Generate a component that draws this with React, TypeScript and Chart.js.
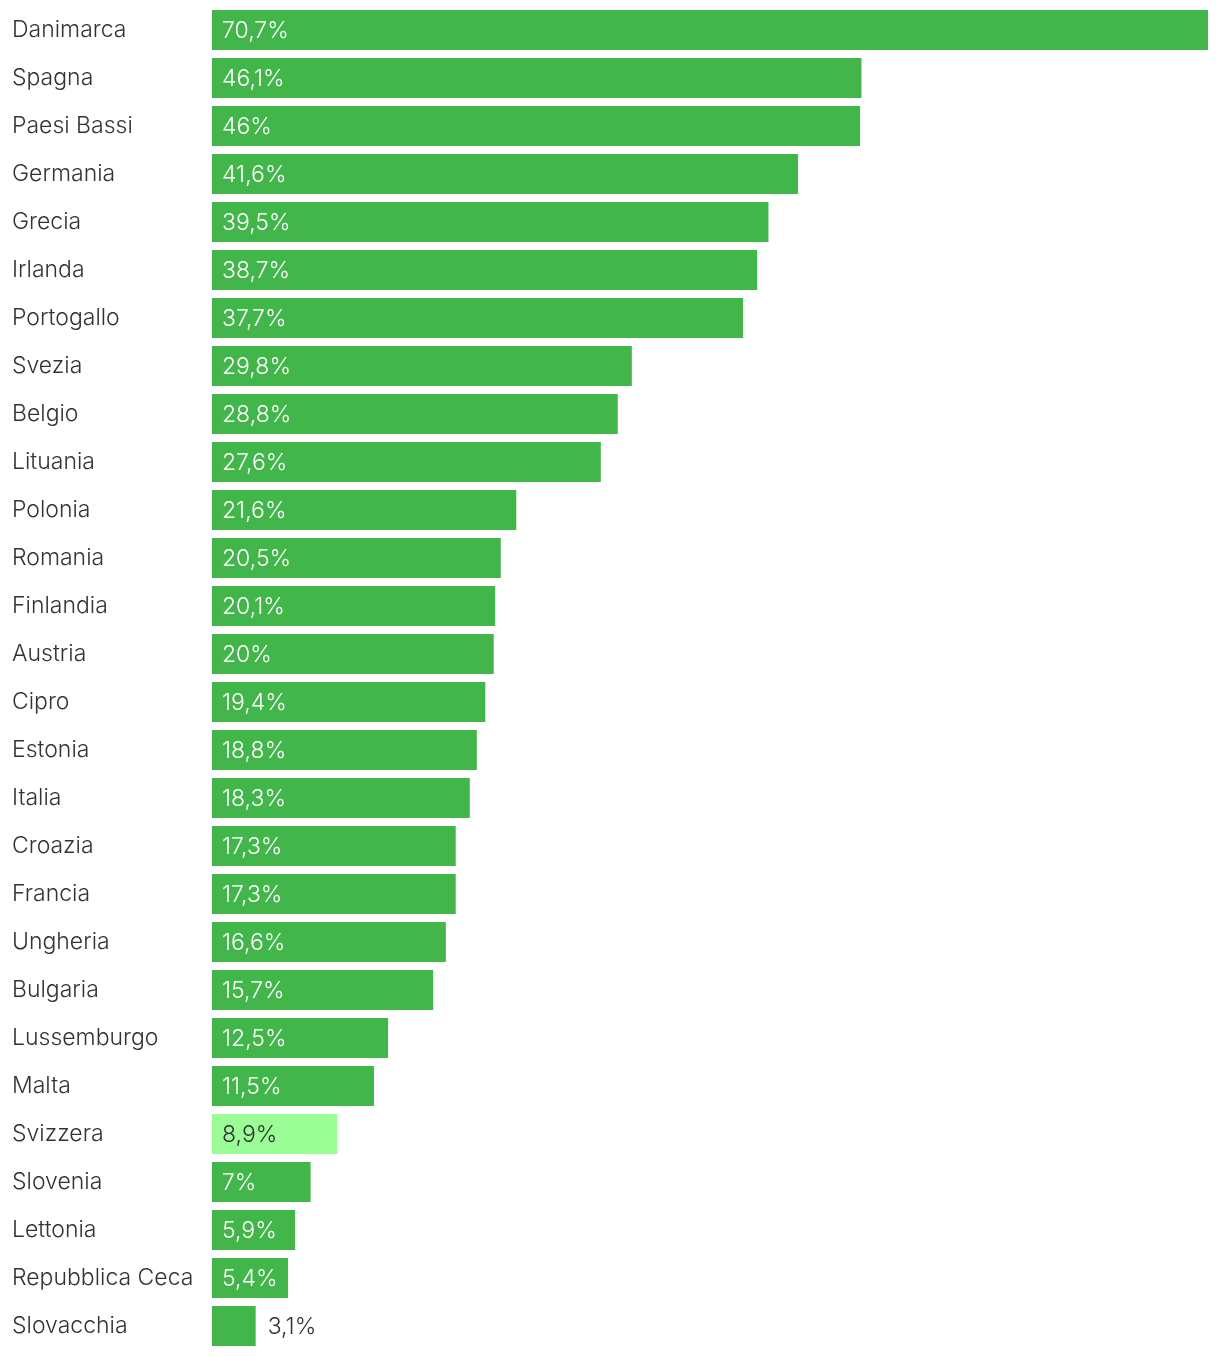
import React, { useEffect, useRef } from "react";
import { Chart, registerables } from "chart.js";

Chart.register(...registerables);

const countries: string[] = [
  "Danimarca", "Spagna", "Paesi Bassi", "Germania", "Grecia", "Irlanda", "Portogallo",
  "Svezia", "Belgio", "Lituania", "Polonia", "Romania", "Finlandia", "Austria", "Cipro",
  "Estonia", "Italia", "Croazia", "Francia", "Ungheria", "Bulgaria", "Lussemburgo",
  "Malta", "Svizzera", "Slovenia", "Lettonia", "Repubblica Ceca", "Slovacchia",
];

const shares: number[] = [
  70.7, 46.1, 46, 41.6, 39.5, 38.7, 37.7, 29.8, 28.8, 27.6, 21.6, 20.5, 20.1, 20,
  19.4, 18.8, 18.3, 17.3, 17.3, 16.6, 15.7, 12.5, 11.5, 8.9, 7, 5.9, 5.4, 3.1,
];

const highlighted: string[] = ["Svizzera"];

const GREEN = "#43b64b";
const LIGHT_GREEN = "#9afd95";
const TEXT = "#333333";
const FONT = "Inter, 'Noto Sans', sans-serif";
const SIZE = 23;
const WEIGHT = "300";

const fmt = (v: number) => String(v).replace(".", ",") + "%";

const valueLabels = {
  id: "valueLabels",
  afterDatasetsDraw(chart: any) {
    const ctx = chart.ctx;
    const meta = chart.getDatasetMeta(0);
    ctx.save();
    ctx.font = `${WEIGHT} ${SIZE}px ${FONT}`;
    ctx.textBaseline = "middle";
    ctx.textAlign = "left";
    meta.data.forEach((bar: any, i: number) => {
      const text = fmt(shares[i]);
      const w = ctx.measureText(text).width;
      const start = Math.min(bar.base, bar.x);
      const end = Math.max(bar.base, bar.x);
      const isHi = highlighted.includes(countries[i]);
      if (w + 20 <= end - start) {
        ctx.fillStyle = isHi ? TEXT : "#ffffff";
        ctx.fillText(text, start + 10, bar.y + 1);
      } else {
        ctx.fillStyle = TEXT;
        ctx.fillText(text, end + 12, bar.y + 1);
      }
    });
    ctx.restore();
  },
};

export default function App() {
  const ref = useRef<HTMLCanvasElement | null>(null);
  useEffect(() => {
    if (!ref.current) return;
    const chart = new Chart(ref.current, {
      type: "bar",
      data: {
        labels: countries,
        datasets: [
          {
            data: shares,
            backgroundColor: countries.map((c) => (highlighted.includes(c) ? LIGHT_GREEN : GREEN)),
            borderWidth: 0,
            categoryPercentage: 1,
            barPercentage: 40 / 48,
          },
        ],
      },
      options: {
        indexAxis: "y",
        animation: false,
        responsive: false,
        maintainAspectRatio: false,
        layout: { padding: { left: 12, right: 12, top: 6, bottom: 6 } },
        plugins: { legend: { display: false }, tooltip: { enabled: false } },
        scales: {
          x: { display: false, min: 0, max: 70.7 },
          y: {
            grid: { display: false },
            border: { display: false },
            ticks: {
              crossAlign: "far",
              color: TEXT,
              font: { family: FONT, size: SIZE, weight: WEIGHT },
              padding: 0,
              autoSkip: false,
            },
            afterFit: (scale: any) => {
              scale.width = 200;
              scale.paddingTop = 0;
              scale.paddingBottom = 0;
            },
          },
        },
      },
      plugins: [valueLabels],
    });
    return () => chart.destroy();
  }, []);
  return (
    <div style={{ position: "absolute", left: 0, top: 0, width: 1220, height: 1356, background: "#fff" }}>
      <canvas ref={ref} width={1220} height={1356} style={{ display: "block", width: 1220, height: 1356 }} />
    </div>
  );
}
